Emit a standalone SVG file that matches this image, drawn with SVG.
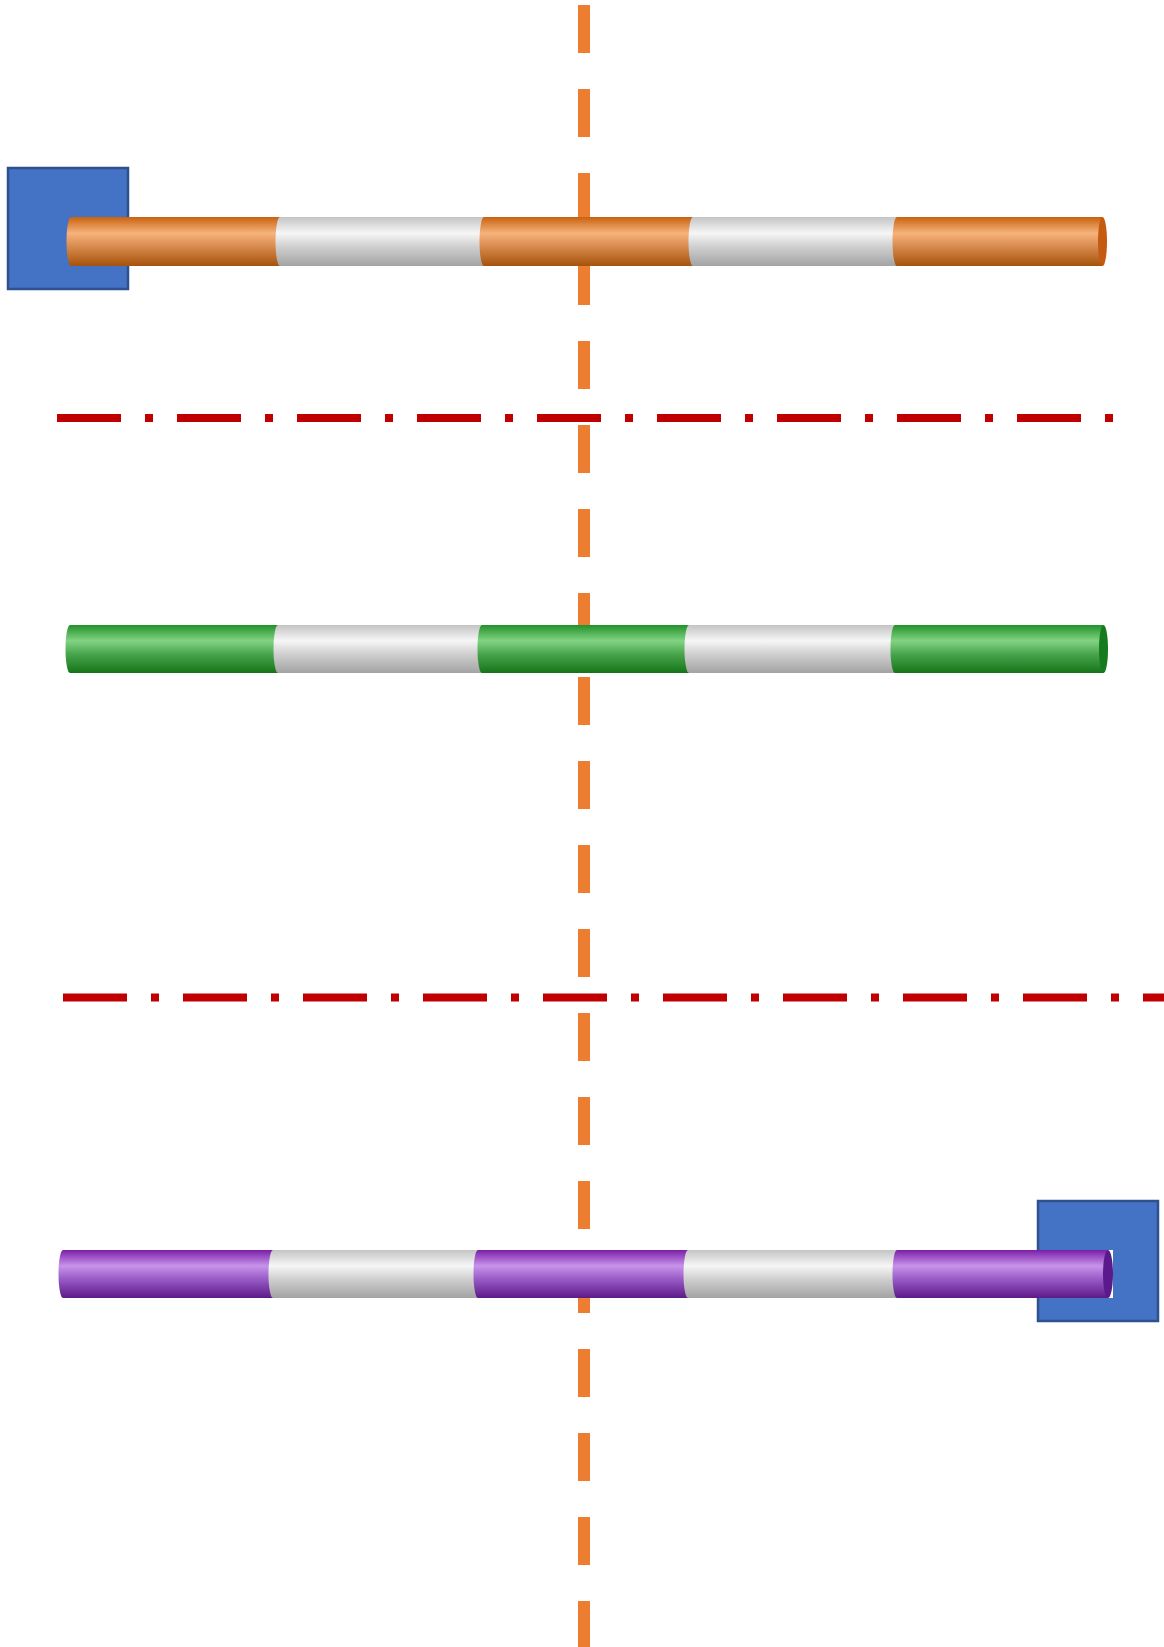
<svg xmlns="http://www.w3.org/2000/svg" width="1164" height="1647" viewBox="0 0 1164 1647">
<defs>
<linearGradient id="gO" x1="0" y1="0" x2="0" y2="1">
<stop offset="0" stop-color="#C8620F"/><stop offset="0.33" stop-color="#F6B37C"/><stop offset="0.55" stop-color="#DE9257"/><stop offset="1" stop-color="#A6520B"/>
</linearGradient>
<linearGradient id="gW" x1="0" y1="0" x2="0" y2="1">
<stop offset="0" stop-color="#C4C4C4"/><stop offset="0.33" stop-color="#F6F6F6"/><stop offset="0.6" stop-color="#D0D0D0"/><stop offset="1" stop-color="#A3A3A3"/>
</linearGradient>
<linearGradient id="gG" x1="0" y1="0" x2="0" y2="1">
<stop offset="0" stop-color="#22912A"/><stop offset="0.33" stop-color="#82D383"/><stop offset="0.6" stop-color="#4AA64E"/><stop offset="1" stop-color="#157418"/>
</linearGradient>
<linearGradient id="gP" x1="0" y1="0" x2="0" y2="1">
<stop offset="0" stop-color="#7A1FA8"/><stop offset="0.33" stop-color="#C793EA"/><stop offset="0.6" stop-color="#9A5CC6"/><stop offset="1" stop-color="#5C1A88"/>
</linearGradient>
</defs>
<style>
.box{fill:#4472C4;stroke:#2F528F;stroke-width:2.5}
.vline{fill:none;stroke:#ED7D31;stroke-width:12;stroke-dasharray:48 36}
.rline{fill:none;stroke:#C00000;stroke-width:8;stroke-dasharray:64 24 8 24}
.o{fill:url(#gO)}.w{fill:url(#gW)}.g{fill:url(#gG)}.p{fill:url(#gP)}
</style>
<rect width="1164" height="1647" fill="#FFFFFF"/>
<g id="box1"><rect class="box" x="8" y="168" width="120" height="121"/></g>
<g id="box2"><rect class="box" x="1038" y="1201" width="120" height="120"/></g>
<g id="connectors">
<line class="vline" x1="584" y1="5" x2="584" y2="1647"/>
<line class="rline" x1="57" y1="418" x2="1114" y2="418"/>
<line class="rline" x1="63" y1="997.5" x2="1164" y2="997.5"/>
</g>
<g id="cable-orange">
<path class="o" d="M71,217 H290 V266 H71 A4.5,24.5 0 0 1 71,217 Z"/>
<path class="w" d="M280,217 H495 V266 H280 A4.5,24.5 0 0 1 280,217 Z"/>
<path class="o" d="M484,217 H700 V266 H484 A4.5,24.5 0 0 1 484,217 Z"/>
<path class="w" d="M693,217 H905 V266 H693 A4.5,24.5 0 0 1 693,217 Z"/>
<path class="o" d="M897,217 H1102.5 V266 H897 A4.5,24.5 0 0 1 897,217 Z"/>
<ellipse cx="1102.5" cy="241.5" rx="4.5" ry="24.5" fill="#C55A11"/>
</g>
<g id="cable-green">
<path class="g" d="M70,625 H290 V673 H70 A4.5,24 0 0 1 70,625 Z"/>
<path class="w" d="M278,625 H495 V673 H278 A4.5,24 0 0 1 278,625 Z"/>
<path class="g" d="M482,625 H700 V673 H482 A4.5,24 0 0 1 482,625 Z"/>
<path class="w" d="M689,625 H905 V673 H689 A4.5,24 0 0 1 689,625 Z"/>
<path class="g" d="M895,625 H1103.5 V673 H895 A4.5,24 0 0 1 895,625 Z"/>
<ellipse cx="1103.5" cy="649" rx="4.5" ry="24" fill="#167A1E"/>
</g>
<g id="cable-purple">
<rect x="1104" y="1250" width="9" height="48" fill="#FFFFFF"/>
<path class="p" d="M63,1250 H285 V1298 H63 A4.5,24 0 0 1 63,1250 Z"/>
<path class="w" d="M273,1250 H490 V1298 H273 A4.5,24 0 0 1 273,1250 Z"/>
<path class="p" d="M478,1250 H700 V1298 H478 A4.5,24 0 0 1 478,1250 Z"/>
<path class="w" d="M688,1250 H905 V1298 H688 A4.5,24 0 0 1 688,1250 Z"/>
<path class="p" d="M897,1250 H1108 V1298 H897 A4.5,24 0 0 1 897,1250 Z"/>
<ellipse cx="1108" cy="1274" rx="5" ry="24" fill="#5B1A8C"/>
</g>
</svg>
